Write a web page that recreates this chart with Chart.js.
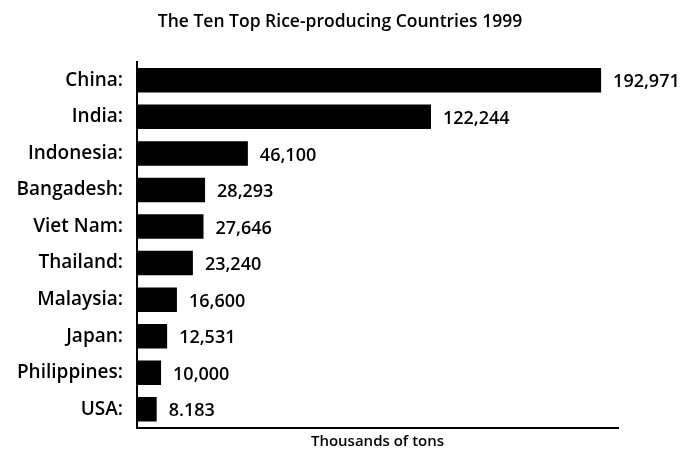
<!DOCTYPE html>
<html lang="en">
<head>
  <meta charset="UTF-8">
  <title>The Ten Top Rice-producing Countries 1999</title>
  <style>
    body { margin: 0; background: #fff; }
    canvas { display: block; }
  </style>
</head>
<body>
  <canvas id="riceChart" width="682" height="453"></canvas>

  <script src="https://cdn.jsdelivr.net/npm/chart.js"></script>
  <script>
    // Chart data
    const countries = [
      'China:', 'India:', 'Indonesia:', 'Bangadesh:', 'Viet Nam:',
      'Thailand:', 'Malaysia:', 'Japan:', 'Philippines:', 'USA:'
    ];
    const production = [192971, 122244, 46100, 28293, 27646, 23240, 16600, 12531, 10000, 8183];
    const valueLabels = [
      '192,971', '122,244', '46,100', '28,293', '27,646',
      '23,240', '16,600', '12,531', '10,000', '8.183'
    ];

    const fontFamily = '"Open Sans", "Noto Sans", sans-serif';

    // writes the figure next to the end of each bar
    const barValues = {
      id: 'barValues',
      afterDatasetsDraw(chart) {
        const ctx = chart.ctx;
        const meta = chart.getDatasetMeta(0);
        ctx.save();
        ctx.fillStyle = '#000';
        ctx.font = '600 18px ' + fontFamily;
        ctx.textAlign = 'left';
        ctx.textBaseline = 'middle';
        meta.data.forEach(function(bar, i) {
          ctx.fillText(valueLabels[i], bar.x + 12, bar.y + 2);
        });
        ctx.restore();
      }
    };

    // the original title is centred a little right of the canvas middle
    const shiftTitle = {
      id: 'shiftTitle',
      afterLayout(chart) {
        chart.titleBlock.left = 62;
        chart.titleBlock.right = 618;
      }
    };

    const config = {
      type: 'bar',
      data: {
        labels: countries,
        datasets: [{
          data: production,
          backgroundColor: '#000',
          borderWidth: 0,
          categoryPercentage: 1,
          barPercentage: 0.67
        }]
      },
      options: {
        indexAxis: 'y',
        responsive: false,
        animation: false,
        layout: {
          padding: { left: 0, right: 64, top: 0, bottom: 0 }
        },
        plugins: {
          legend: { display: false },
          tooltip: { enabled: false },
          title: {
            display: true,
            text: 'The Ten Top Rice-producing Countries 1999',
            color: '#000',
            font: { family: fontFamily, size: 17.5, weight: 600 },
            padding: { top: 12, bottom: 29 }
          }
        },
        scales: {
          x: {
            min: 0,
            max: 200000,
            grid: { display: false, drawTicks: false },
            border: { display: true, color: '#000', width: 2 },
            ticks: { display: false },
            title: {
              display: true,
              text: 'Thousands of tons',
              color: '#000',
              font: { family: fontFamily, size: 15, weight: 600 },
              padding: { top: 5, bottom: 2 }
            }
          },
          y: {
            grid: { display: false, drawTicks: false },
            border: { display: true, color: '#000', width: 2 },
            ticks: {
              color: '#000',
              padding: 14,
              font: { family: fontFamily, size: 19, weight: 600 }
            },
            afterFit(scale) {
              scale.width = 137;
            }
          }
        }
      },
      plugins: [barValues, shiftTitle]
    };

    new Chart(document.getElementById('riceChart'), config);
  </script>
</body>
</html>
